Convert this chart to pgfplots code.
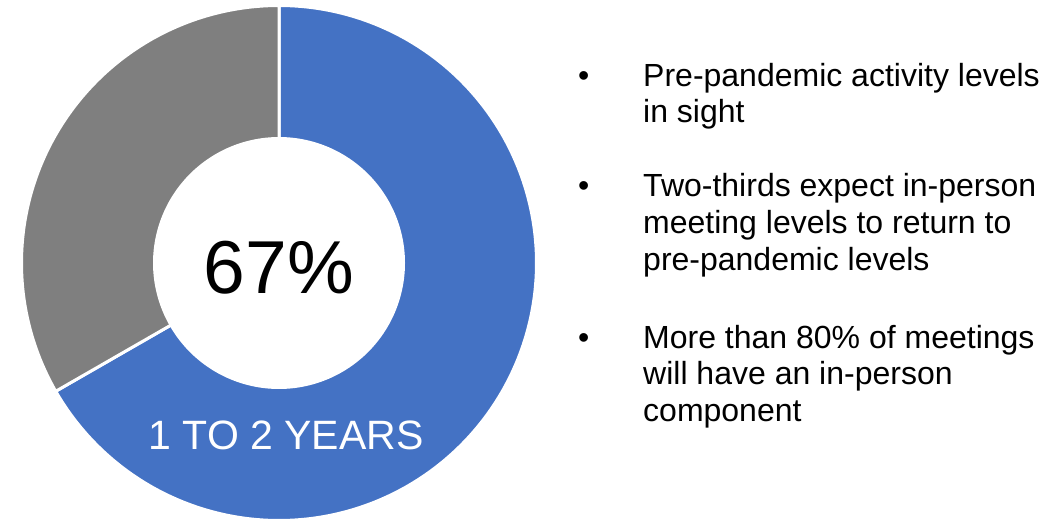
\documentclass[border=0pt]{standalone}
\usepackage{pgfplots}
\usepackage{pgfplotstable}
\pgfplotsset{compat=1.18}
\usepackage{fontspec}
\setmainfont{Liberation Sans}
\definecolor{donutblue}{HTML}{4472C4}
\definecolor{donutgray}{HTML}{7F7F7F}

\pgfplotstableread{
label value
OneToTwoYears 66.7
Other 33.3
}\donutdata
\pgfplotstablegetelem{0}{value}\of\donutdata
\let\valA\pgfplotsretval
\pgfmathsetmacro{\angA}{90-3.6*\valA}
\pgfmathsetmacro{\angEnd}{90-360}

\begin{document}
\begin{tikzpicture}
\begin{axis}[
  x=1pt, y=1pt,
  xmin=0, xmax=1064, ymin=0, ymax=520,
  hide axis,
  scale only axis,
  clip=true,
]
\path (axis cs:0,0) rectangle (axis cs:1064,520);
% blue wedge
\addplot[fill=donutblue, draw=white, line width=3pt, domain=\angA:90, samples=240, variable=\t]
  ({279+257.5*cos(\t)},{257+257.5*sin(\t)}) -- (axis cs:279,257) -- cycle;
% gray wedge
\addplot[fill=donutgray, draw=white, line width=3pt, domain=\angEnd:\angA, samples=140, variable=\t]
  ({279+257.5*cos(\t)},{257+257.5*sin(\t)}) -- (axis cs:279,257) -- cycle;
% hole
\addplot[fill=white, draw=none, domain=0:360, samples=200, variable=\t]
  ({279+126*cos(\t)},{257+126*sin(\t)}) -- cycle;

\node[anchor=base, inner sep=0pt, font=\fontsize{75}{90}\selectfont] at (axis cs:279,227) {67\%};
\node[anchor=base, inner sep=0pt, text=white, font=\fontsize{41}{48}\selectfont] at (axis cs:286,71) {1 TO 2 YEARS};

\begin{scope}[every node/.style={anchor=base west, inner sep=0pt, font=\fontsize{32}{36}\selectfont}]
\node at (axis cs:578,433) {\textbullet};
\node at (axis cs:643,433) {Pre-pandemic activity levels};
\node at (axis cs:643,397) {in sight};
\node at (axis cs:578,323) {\textbullet};
\node at (axis cs:643,323) {Two-thirds expect in-person};
\node at (axis cs:643,287) {meeting levels to return to};
\node at (axis cs:643,250) {pre-pandemic levels};
\node at (axis cs:578,172) {\textbullet};
\node at (axis cs:643,172) {More than 80\% of meetings};
\node at (axis cs:643,136) {will have an in-person};
\node at (axis cs:643,99) {component};
\end{scope}
\end{axis}
\end{tikzpicture}
\end{document}
